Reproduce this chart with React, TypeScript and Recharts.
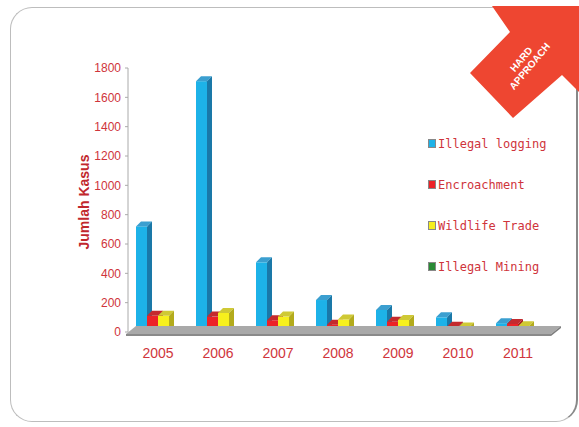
import React from 'react';
import { BarChart, Bar, XAxis, YAxis, Legend, ReferenceLine } from 'recharts';

const years = ['2005', '2006', '2007', '2008', '2009', '2010', '2011'];
const illegalLogging = [720, 1710, 475, 218, 150, 100, 60];
const encroachment = [110, 105, 80, 50, 70, 35, 55];
const wildlifeTrade = [110, 130, 105, 85, 82, 30, 40];
const illegalMining = [3, 3, 3, 3, 3, 3, 3];
const yTicks = [0, 200, 400, 600, 800, 1000, 1200, 1400, 1600, 1800];

const seriesInfo = [
  { key: 'logging', name: 'Illegal logging', front: '#1db2e8', top: '#3b9fd0', side: '#1a78a8' },
  { key: 'encroach', name: 'Encroachment', front: '#ec2227', top: '#c42a2e', side: '#a81a1e' },
  { key: 'wildlife', name: 'Wildlife Trade', front: '#f6ef1d', top: '#cfc935', side: '#b3ab1c' },
  { key: 'mining', name: 'Illegal Mining', front: '#2a8a35', top: '#217a2b', side: '#145a1c' },
];

const data = years.map((year, i) => ({
  year,
  logging: illegalLogging[i],
  encroach: encroachment[i],
  wildlife: wildlifeTrade[i],
  mining: illegalMining[i],
}));

const RED = '#cf343b';
const D = 5;

function box(colors: { front: string; top: string; side: string }) {
  return (p: any) => {
    const { x, y, width: w, height: h } = p;
    if (x == null || y == null) return null;
    return (
      <g>
        <rect x={x} y={y} width={w} height={Math.max(h, 0)} fill={colors.front} />
        <polygon points={`${x},${y} ${x + D},${y - D} ${x + w + D},${y - D} ${x + w},${y}`} fill={colors.top} />
        <polygon points={`${x + w},${y} ${x + w + D},${y - D} ${x + w + D},${y + h - D} ${x + w},${y + h}`} fill={colors.side} />
      </g>
    );
  };
}

// grey 3D floor under the bars, drawn from the zero line
function Floor(p: any) {
  const { x1, y1, x2 } = p;
  return (
    <g>
      <polygon points={`${x1 - 2},${y1 + 2} ${x2 + 3},${y1 + 2} ${x2 + 13},${y1 - 6} ${x1 + 8},${y1 - 6}`} fill="#a9a9a9" />
      <polygon points={`${x1 - 2},${y1 + 2} ${x2 + 3},${y1 + 2} ${x2 + 3},${y1 + 4} ${x1 - 2},${y1 + 4}`} fill="#8a8a8a" />
      <polygon points={`${x2 + 3},${y1 + 2} ${x2 + 13},${y1 - 6} ${x2 + 13},${y1 - 4} ${x2 + 3},${y1 + 4}`} fill="#7d7d7d" />
    </g>
  );
}

function LegendBox() {
  return (
    <div style={{ fontFamily: '"DejaVu Sans Mono", monospace', fontSize: 12, color: RED }}>
      {seriesInfo.map((s) => (
        <div key={s.key} style={{ display: 'flex', alignItems: 'center', height: 41 }}>
          <span style={{ width: 6, height: 7, background: s.front, border: '1px solid #888', marginRight: 2 }} />
          <span>{s.name}</span>
        </div>
      ))}
    </div>
  );
}

export default function App() {
  return (
    <div style={{ position: 'absolute', left: 0, top: 0, width: 579, height: 427, background: '#fff', overflow: 'hidden' }}>
      <div
        style={{
          position: 'absolute', left: 10, top: 7, width: 565, height: 413,
          border: '1px solid #bdbdbd', borderRightColor: '#888', borderRightWidth: 2, borderRadius: 22,
        }}
      />
      <div style={{ position: 'absolute', left: 0, top: 0 }}>
        <BarChart
          width={579}
          height={427}
          data={data}
          margin={{ top: 68, right: 31, bottom: 65, left: 83 }}
          barGap={0}
          barCategoryGap={8}
        >
          <ReferenceLine y={0} shape={Floor} ifOverflow="visible" />
          <XAxis
            dataKey="year"
            height={30}
            axisLine={false}
            tickLine={false}
            tickMargin={10}
            tick={{ fill: RED, fontSize: 14, fontFamily: '"Liberation Sans Narrow", "Liberation Sans", Arial' }}
          />
          <YAxis
            width={45}
            domain={[0, 1800]}
            ticks={yTicks}
            interval={0}
            axisLine={{ stroke: '#aaa' }}
            tickLine={{ stroke: '#aaa' }}
            tickSize={3}
            tickMargin={4}
            tick={{ fill: RED, fontSize: 12, fontFamily: '"Liberation Sans Narrow", "Liberation Sans", Arial' }}
          />
          <Legend
            layout="vertical"
            align="center"
            verticalAlign="middle"
            wrapperStyle={{ left: 428, top: 123, width: 130 }}
            content={<LegendBox />}
          />
          {seriesInfo.map((s) => (
            <Bar
              key={s.key}
              dataKey={s.key}
              name={s.name}
              fill={s.front}
              barSize={11}
              isAnimationActive={false}
              shape={box(s)}
            />
          ))}
        </BarChart>
      </div>
      <svg width={579} height={427} style={{ position: 'absolute', left: 0, top: 0, pointerEvents: 'none' }}>
        <text
          x={89}
          y={202}
          transform="rotate(-90 89 202)"
          textAnchor="middle"
          fontFamily='"Liberation Sans", Arial'
          fontWeight="bold"
          fontSize={14}
          fill="#c1272d"
        >
          Jumlah Kasus
        </text>
        <polygon points="492,6 579,6 579,92 562,75 513,118 470,73 510,32" fill="#ee4631" />
        <g transform="rotate(-50 527 64)" fill="#fff" fontFamily='"Liberation Sans Narrow", "Liberation Sans", Arial' fontWeight="bold" fontSize={10} textAnchor="middle">
          <text x={527} y={60}>HARD</text>
          <text x={527} y={71}>APPROACH</text>
        </g>
      </svg>
    </div>
  );
}
